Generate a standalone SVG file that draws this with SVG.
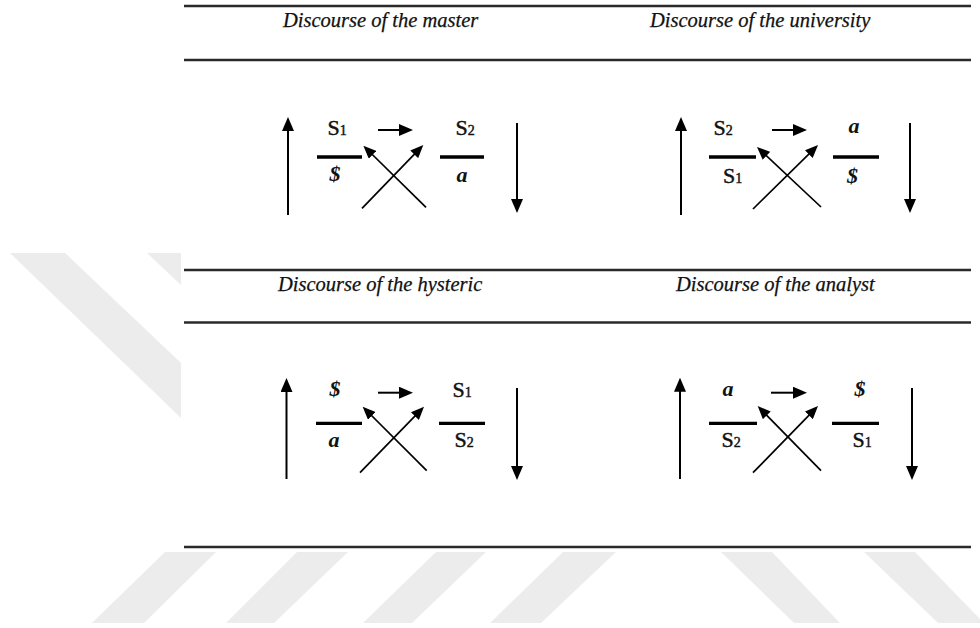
<svg xmlns="http://www.w3.org/2000/svg" width="980" height="628" viewBox="0 0 980 628">
<defs>
<style>
.wm{fill:#ececec}
.rule{stroke:#2a2a2a;stroke-width:2.4;fill:none}
.hd{font-family:"Liberation Serif","Times New Roman",serif;font-style:italic;font-size:20.5px;fill:#111;stroke:#111;stroke-width:0.25}
.s{font-family:"Liberation Serif","Times New Roman",serif;font-size:22px;fill:#111;stroke:#111;stroke-width:0.45;text-anchor:middle}
.sub{font-size:14px}
.m{font-family:"Liberation Serif","Times New Roman",serif;font-style:italic;font-weight:bold;font-size:22px;fill:#111;text-anchor:middle}
.bar{stroke:#000;stroke-width:3.3}
.ar{stroke:#000;stroke-width:2;fill:none;marker-end:url(#hd)}
.cx{stroke:#000;stroke-width:1.7;fill:none;marker-end:url(#hx)}
</style>
<marker id="hd" viewBox="0 0 14 12" refX="10" refY="6" markerWidth="14" markerHeight="12" orient="auto" markerUnits="userSpaceOnUse"><path d="M0,0 L14,6 L0,12 z" fill="#000"/></marker>
<marker id="hx" viewBox="0 0 13 11" refX="9" refY="5.5" markerWidth="13" markerHeight="11" orient="auto" markerUnits="userSpaceOnUse"><path d="M0,0 L13,5.5 L0,11 z" fill="#000"/></marker>
</defs>
<rect width="980" height="628" fill="#fff"/>
<g id="watermark">
<polygon class="wm" points="10,253 65,253 181,363 181,418"/>
<polygon class="wm" points="147,253 181,253 181,285"/>
<polygon class="wm" points="165,552 216,552 144,623 92,623"/>
<polygon class="wm" points="297,552 348,552 274,623 226,623"/>
<polygon class="wm" points="436,552 486,552 412,623 363,623"/>
<polygon class="wm" points="563,552 616,552 541,623 490,623"/>
<polygon class="wm" points="721,552 772,552 840,623 794,623"/>
<polygon class="wm" points="864,552 915,552 984,623 938,623"/>
<rect x="181" y="0" width="799" height="552" fill="#fff"/>
</g>
<g id="rules">
<line class="rule" x1="184" y1="6" x2="971" y2="6"/>
<line class="rule" x1="184" y1="60" x2="971" y2="60"/>
<line class="rule" x1="184" y1="270" x2="971" y2="270"/>
<line class="rule" x1="184" y1="322.5" x2="971" y2="322.5"/>
<line class="rule" x1="184" y1="547" x2="971" y2="547"/>
</g>
<g id="master">
<text class="hd" x="283" y="27">Discourse of the master</text>
<text class="s" x="337" y="135">S<tspan class="sub">1</tspan></text>
<line class="bar" x1="317" y1="157" x2="362" y2="157"/>
<text class="m" x="335" y="181">$</text>
<text class="s" x="465" y="135">S<tspan class="sub">2</tspan></text>
<line class="bar" x1="440" y1="157" x2="484" y2="157"/>
<text class="m" x="462" y="182">a</text>
</g>
<g id="university">
<text class="hd" x="650" y="27">Discourse of the university</text>
<text class="s" x="723" y="135">S<tspan class="sub">2</tspan></text>
<line class="bar" x1="709" y1="157" x2="756" y2="157"/>
<text class="s" x="732.5" y="183">S<tspan class="sub">1</tspan></text>
<text class="m" x="854" y="133">a</text>
<line class="bar" x1="833" y1="157" x2="879" y2="157"/>
<text class="m" x="852.5" y="183">$</text>
</g>
<g id="hysteric">
<text class="hd" x="278" y="290.7">Discourse of the hysteric</text>
<text class="m" x="335" y="395.5">$</text>
<line class="bar" x1="316" y1="423.3" x2="362" y2="423.3"/>
<text class="m" x="334" y="447">a</text>
<text class="s" x="462" y="396.5">S<tspan class="sub">1</tspan></text>
<line class="bar" x1="439" y1="423.3" x2="485" y2="423.3"/>
<text class="s" x="464" y="447">S<tspan class="sub">2</tspan></text>
</g>
<g id="analyst">
<text class="hd" x="676" y="290.7">Discourse of the analyst</text>
<text class="m" x="728" y="395.5">a</text>
<line class="bar" x1="709" y1="423.3" x2="757" y2="423.3"/>
<text class="s" x="731" y="447">S<tspan class="sub">2</tspan></text>
<text class="m" x="860" y="396">$</text>
<line class="bar" x1="832" y1="423.3" x2="879" y2="423.3"/>
<text class="s" x="862" y="447">S<tspan class="sub">1</tspan></text>
</g>
<g id="connectors">
<line class="ar" x1="288" y1="215" x2="288" y2="121"/>
<line class="ar" x1="517" y1="123" x2="517" y2="209"/>
<line class="ar" x1="378" y1="130" x2="409" y2="130"/>
<line class="cx" x1="362" y1="208.3" x2="420.5" y2="147.9"/>
<line class="cx" x1="426" y1="207.3" x2="366.2" y2="148.5"/>
<line class="ar" x1="681" y1="215" x2="681" y2="121"/>
<line class="ar" x1="910" y1="123" x2="910" y2="209"/>
<line class="ar" x1="772" y1="130" x2="803" y2="130"/>
<line class="cx" x1="753" y1="209" x2="815.2" y2="147.8"/>
<line class="cx" x1="821" y1="207" x2="759.9" y2="149.7"/>
<line class="ar" x1="286.5" y1="479" x2="286.5" y2="382"/>
<line class="ar" x1="517" y1="388" x2="517" y2="476"/>
<line class="ar" x1="378" y1="392.7" x2="409" y2="392.7"/>
<line class="cx" x1="360" y1="472.7" x2="421.2" y2="409.6"/>
<line class="cx" x1="426.7" y1="470.7" x2="365.5" y2="409.5"/>
<line class="ar" x1="680" y1="479" x2="680" y2="381.7"/>
<line class="ar" x1="912" y1="388" x2="912" y2="476"/>
<line class="ar" x1="771" y1="392.7" x2="803" y2="392.7"/>
<line class="cx" x1="753" y1="472.7" x2="815.2" y2="408.9"/>
<line class="cx" x1="821" y1="470.7" x2="760.5" y2="408.9"/>
</g>
</svg>
